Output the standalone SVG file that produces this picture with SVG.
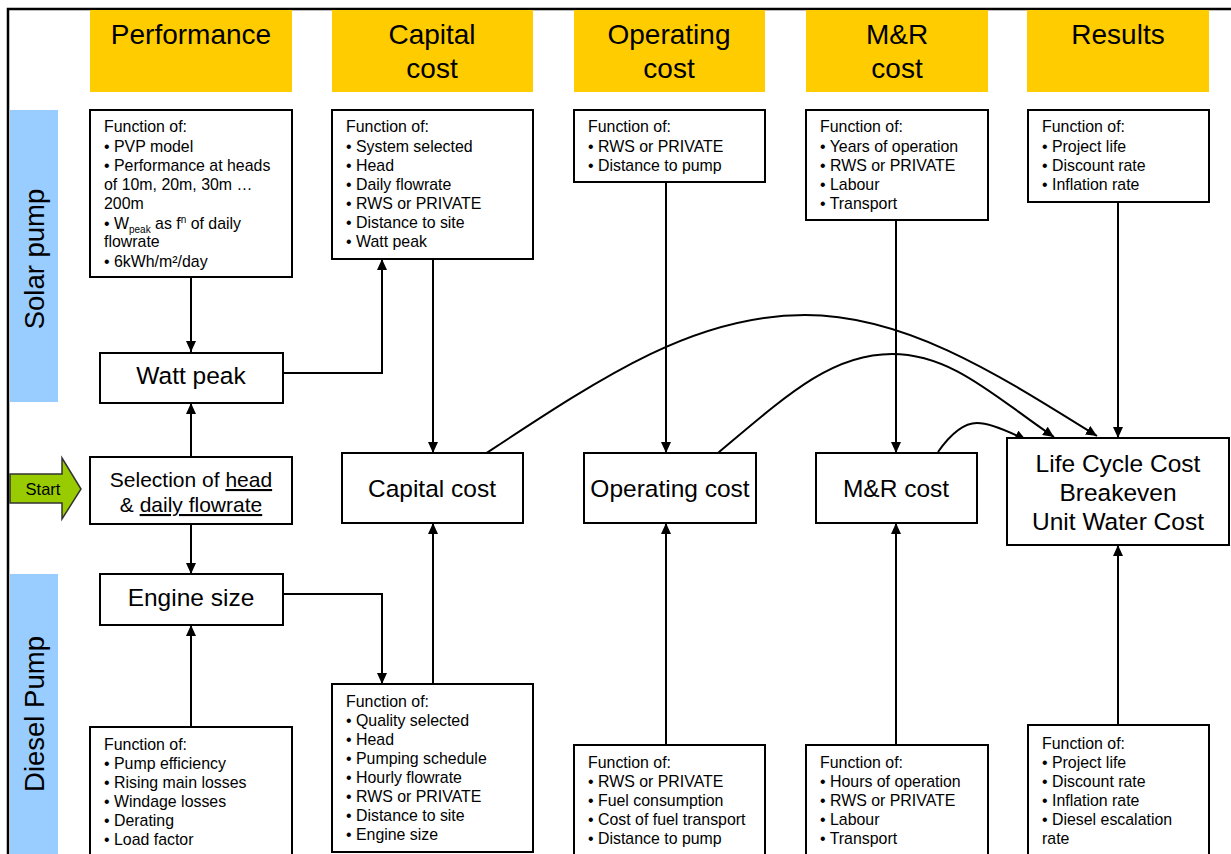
<svg xmlns="http://www.w3.org/2000/svg" width="1231" height="854" viewBox="0 0 1231 854">
<defs>
<style>
text{font-family:"Liberation Sans",Arial,sans-serif;fill:#000}
.hdr{fill:#FFCC00}
.side{fill:#99CCFF}
.hdrt{font-size:28px;text-anchor:middle}
.sidet{font-size:27.5px;text-anchor:middle}
.box{fill:#fff;stroke:#000;stroke-width:2}
.fn{font-size:15.9px}
.nt{font-size:24.5px;text-anchor:middle}
.con{fill:none;stroke:#000;stroke-width:2;marker-end:url(#ah)}
.u{text-decoration:underline}
</style>
<marker id="ah" viewBox="0 0 11 10" markerWidth="11" markerHeight="10" refX="11" refY="5" orient="auto" markerUnits="userSpaceOnUse">
<path d="M0,0 L11,5 L0,10 z" fill="#000"/>
</marker>
</defs>
<rect width="1231" height="854" fill="#fff"/>
<g id="frame">
<path d="M8 854 V9 H1231" fill="none" stroke="#000" stroke-width="2.5"/>
</g>
<g id="headers">
<rect class="hdr" x="90" y="10" width="202" height="82"/>
<text class="hdrt" x="191" y="44">Performance</text>
<rect class="hdr" x="332" y="10" width="201" height="82"/>
<text class="hdrt" x="432" y="44">Capital</text>
<text class="hdrt" x="432" y="78">cost</text>
<rect class="hdr" x="574" y="10" width="191" height="82"/>
<text class="hdrt" x="669" y="44">Operating</text>
<text class="hdrt" x="669" y="78">cost</text>
<rect class="hdr" x="806" y="10" width="182" height="82"/>
<text class="hdrt" x="897" y="44">M&amp;R</text>
<text class="hdrt" x="897" y="78">cost</text>
<rect class="hdr" x="1027" y="10" width="182" height="82"/>
<text class="hdrt" x="1118" y="44">Results</text>
</g>
<g id="solar-label">
<rect class="side" x="10" y="110" width="48" height="292"/>
<text class="sidet" transform="translate(44,259) rotate(-90)">Solar pump</text>
</g>
<g id="diesel-label">
<rect class="side" x="10" y="574" width="48" height="282"/>
<text class="sidet" transform="translate(44,714) rotate(-90)">Diesel Pump</text>
</g>
<g id="start">
<path d="M10 474 H62 V458 L81 489 L62 519 V503 H10 Z" fill="#99CC00" stroke="#333" stroke-width="1.5"/>
<text x="43" y="495" font-size="16.5" text-anchor="middle">Start</text>
</g>
<g id="connectors">
<line class="con" x1="191" y1="277" x2="191" y2="352"/>
<line class="con" x1="191" y1="457" x2="191" y2="403"/>
<line class="con" x1="191" y1="524" x2="191" y2="574"/>
<line class="con" x1="191" y1="727" x2="191" y2="625"/>
<path class="con" d="M283 373 H382 V259"/>
<path class="con" d="M283 594 H382 V684"/>
<line class="con" x1="433" y1="259" x2="433" y2="453"/>
<line class="con" x1="433" y1="684" x2="433" y2="523"/>
<line class="con" x1="666" y1="182" x2="666" y2="453"/>
<line class="con" x1="666" y1="745" x2="666" y2="523"/>
<line class="con" x1="896" y1="220" x2="896" y2="453"/>
<line class="con" x1="896" y1="745" x2="896" y2="523"/>
<line class="con" x1="1118" y1="202" x2="1118" y2="438"/>
<line class="con" x1="1118" y1="725" x2="1118" y2="545"/>
<path class="con" d="M485 454 C605 375, 695 315, 805 315 C905 315, 996 373, 1097 436"/>
<path class="con" d="M718 453 C788 394, 832 354, 892 354 C952 354, 995 397, 1054 437"/>
<path class="con" d="M938 452 C952 432, 965 423, 977 423 C990 423, 1010 432, 1026 440"/>
</g>
<g id="perf-solar-fn">
<rect class="box" x="90" y="110" width="202" height="167"/>
<text class="fn" x="104" y="132">Function of:</text>
<text class="fn" x="104" y="152">• PVP model</text>
<text class="fn" x="104" y="171">• Performance at heads</text>
<text class="fn" x="104" y="190">of 10m, 20m, 30m …</text>
<text class="fn" x="104" y="209">200m</text>
<text class="fn" x="104" y="229">• W<tspan font-size="10" dy="4">peak</tspan><tspan dy="-4"> as f</tspan><tspan font-size="10" dy="-6">n</tspan><tspan dy="6"> of daily</tspan></text>
<text class="fn" x="104" y="247">flowrate</text>
<text class="fn" x="104" y="267">• 6kWh/m²/day</text>
</g>
<g id="watt-peak">
<rect class="box" x="100" y="353" width="183" height="50"/>
<text class="nt" x="191" y="384">Watt peak</text>
</g>
<g id="selection">
<rect class="box" x="90" y="457" width="202" height="67"/>
<text x="191" y="487" font-size="21" text-anchor="middle">Selection of <tspan class="u">head</tspan></text>
<text x="191" y="512" font-size="21" text-anchor="middle">&amp; <tspan class="u">daily flowrate</tspan></text>
</g>
<g id="engine-size">
<rect class="box" x="100" y="574" width="183" height="51"/>
<text class="nt" x="191" y="606">Engine size</text>
</g>
<g id="perf-diesel-fn">
<rect class="box" x="90" y="727" width="202" height="140"/>
<text class="fn" x="104" y="750">Function of:</text>
<text class="fn" x="104" y="769">• Pump efficiency</text>
<text class="fn" x="104" y="788">• Rising main losses</text>
<text class="fn" x="104" y="807">• Windage losses</text>
<text class="fn" x="104" y="826">• Derating</text>
<text class="fn" x="104" y="845">• Load factor</text>
</g>
<g id="capital-solar-fn">
<rect class="box" x="332" y="110" width="201" height="149"/>
<text class="fn" x="346" y="132">Function of:</text>
<text class="fn" x="346" y="152">• System selected</text>
<text class="fn" x="346" y="171">• Head</text>
<text class="fn" x="346" y="190">• Daily flowrate</text>
<text class="fn" x="346" y="209">• RWS or PRIVATE</text>
<text class="fn" x="346" y="228">• Distance to site</text>
<text class="fn" x="346" y="247">• Watt peak</text>
</g>
<g id="capital-cost">
<rect class="box" x="342" y="453" width="181" height="70"/>
<text class="nt" x="432" y="497">Capital cost</text>
</g>
<g id="capital-diesel-fn">
<rect class="box" x="332" y="684" width="201" height="168"/>
<text class="fn" x="346" y="707">Function of:</text>
<text class="fn" x="346" y="726">• Quality selected</text>
<text class="fn" x="346" y="745">• Head</text>
<text class="fn" x="346" y="764">• Pumping schedule</text>
<text class="fn" x="346" y="783">• Hourly flowrate</text>
<text class="fn" x="346" y="802">• RWS or PRIVATE</text>
<text class="fn" x="346" y="821">• Distance to site</text>
<text class="fn" x="346" y="840">• Engine size</text>
</g>
<g id="operating-solar-fn">
<rect class="box" x="574" y="110" width="191" height="72"/>
<text class="fn" x="588" y="132">Function of:</text>
<text class="fn" x="588" y="152">• RWS or PRIVATE</text>
<text class="fn" x="588" y="171">• Distance to pump</text>
</g>
<g id="operating-cost">
<rect class="box" x="584" y="453" width="172" height="70"/>
<text class="nt" x="670" y="497">Operating cost</text>
</g>
<g id="operating-diesel-fn">
<rect class="box" x="574" y="745" width="191" height="130"/>
<text class="fn" x="588" y="768">Function of:</text>
<text class="fn" x="588" y="787">• RWS or PRIVATE</text>
<text class="fn" x="588" y="806">• Fuel consumption</text>
<text class="fn" x="588" y="825">• Cost of fuel transport</text>
<text class="fn" x="588" y="844">• Distance to pump</text>
</g>
<g id="mr-solar-fn">
<rect class="box" x="806" y="110" width="182" height="110"/>
<text class="fn" x="820" y="132">Function of:</text>
<text class="fn" x="820" y="152">• Years of operation</text>
<text class="fn" x="820" y="171">• RWS or PRIVATE</text>
<text class="fn" x="820" y="190">• Labour</text>
<text class="fn" x="820" y="209">• Transport</text>
</g>
<g id="mr-cost">
<rect class="box" x="816" y="453" width="161" height="70"/>
<text class="nt" x="896" y="497">M&amp;R cost</text>
</g>
<g id="mr-diesel-fn">
<rect class="box" x="806" y="745" width="182" height="130"/>
<text class="fn" x="820" y="768">Function of:</text>
<text class="fn" x="820" y="787">• Hours of operation</text>
<text class="fn" x="820" y="806">• RWS or PRIVATE</text>
<text class="fn" x="820" y="825">• Labour</text>
<text class="fn" x="820" y="844">• Transport</text>
</g>
<g id="results-solar-fn">
<rect class="box" x="1028" y="110" width="181" height="92"/>
<text class="fn" x="1042" y="132">Function of:</text>
<text class="fn" x="1042" y="152">• Project life</text>
<text class="fn" x="1042" y="171">• Discount rate</text>
<text class="fn" x="1042" y="190">• Inflation rate</text>
</g>
<g id="results">
<rect class="box" x="1007" y="438" width="222" height="107"/>
<text class="nt" x="1118" y="472">Life Cycle Cost</text>
<text class="nt" x="1118" y="501">Breakeven</text>
<text class="nt" x="1118" y="530">Unit Water Cost</text>
</g>
<g id="results-diesel-fn">
<rect class="box" x="1028" y="725" width="181" height="150"/>
<text class="fn" x="1042" y="749">Function of:</text>
<text class="fn" x="1042" y="768">• Project life</text>
<text class="fn" x="1042" y="787">• Discount rate</text>
<text class="fn" x="1042" y="806">• Inflation rate</text>
<text class="fn" x="1042" y="825">• Diesel escalation</text>
<text class="fn" x="1042" y="844">rate</text>
</g>
</svg>
